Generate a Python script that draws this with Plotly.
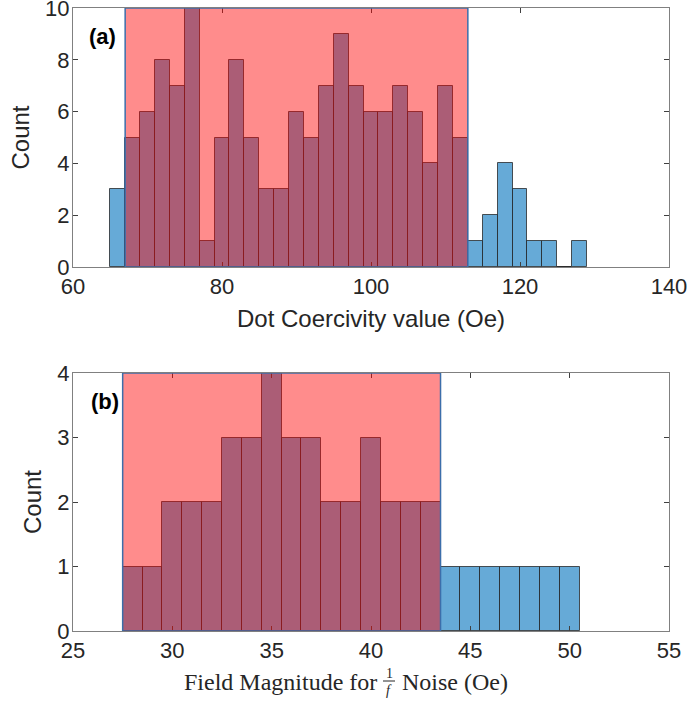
import plotly.graph_objects as go

# ---- data ----
# (a) Dot coercivity histogram
a_edges_start = 65
a_binwidth = 2
a_counts = [3, 5, 6, 8, 7, 10, 1, 5, 8, 5, 3, 3, 6, 5, 7, 9, 7, 6, 6, 7, 6, 4, 7, 5,
            1, 2, 4, 3, 1, 1, 0, 1]
a_region = [67, 113]
a_xticks = [60, 80, 100, 120, 140]
a_yticks = [0, 2, 4, 6, 8, 10]

# (b) Field magnitude histogram
b_edges_start = 27.5
b_binwidth = 1
b_counts = [1, 1, 2, 2, 2, 3, 3, 4, 3, 3, 2, 2, 3, 2, 2, 2,
            1, 1, 1, 1, 1, 1, 1]
b_region = [27.5, 43.5]
b_xticks = [25, 30, 35, 40, 45, 50, 55]
b_yticks = [0, 1, 2, 3, 4]

a_centers = [a_edges_start + a_binwidth * (i + 0.5) for i in range(len(a_counts))]
b_centers = [b_edges_start + b_binwidth * (i + 0.5) for i in range(len(b_counts))]

BAR_COLOR = "rgb(102,170,215)"
EDGE = "rgba(30,30,30,0.75)"
FONT = "Liberation Sans, Arial, sans-serif"
SERIF = "Liberation Serif, DejaVu Serif, serif"
TXT = "#262626"

W, H = 688, 705
ML, MR, MT, MB = 73, 19, 8, 74
PW, PH = W - ML - MR, H - MT - MB


def px(x):
    return (x - ML) / PW


def py(y):
    return (H - MB - y) / PH


fig = go.Figure()
fig.add_trace(go.Bar(x=a_centers, y=a_counts, width=a_binwidth,
                     marker=dict(color=BAR_COLOR, line=dict(color=EDGE, width=1)),
                     xaxis="x", yaxis="y", showlegend=False))
fig.add_trace(go.Bar(x=b_centers, y=b_counts, width=b_binwidth,
                     marker=dict(color=BAR_COLOR, line=dict(color=EDGE, width=1)),
                     xaxis="x2", yaxis="y2", showlegend=False))

# shaded regions
fig.add_shape(type="rect", xref="x", yref="y", x0=a_region[0], x1=a_region[1],
              y0=0, y1=max(a_yticks), fillcolor="rgba(255,0,0,0.45)",
              line=dict(color="rgb(60,110,170)", width=1.5), layer="above")
fig.add_shape(type="rect", xref="x2", yref="y2", x0=b_region[0], x1=b_region[1],
              y0=0, y1=max(b_yticks), fillcolor="rgba(255,0,0,0.45)",
              line=dict(color="rgb(60,110,170)", width=1.5), layer="above")
# fraction bar of 1/f in bottom x-axis title
fig.add_shape(type="line", xref="paper", yref="paper", x0=px(383), x1=px(395),
              y0=py(681), y1=py(681), line=dict(color=TXT, width=1))

axis_common = dict(showline=True, linecolor="#808080", linewidth=1, mirror="allticks",
                   ticks="inside", ticklen=5, tickcolor="#404040", showgrid=False,
                   zeroline=False, automargin=False, ticklabeloverflow="allow",
                   tickfont=dict(family=FONT, size=22, color=TXT))

yt = dict(ticklabelstandoff=-2)

fig.update_layout(
    width=W, height=H,
    margin=dict(l=ML, r=MR, t=MT, b=MB),
    plot_bgcolor="white", paper_bgcolor="white",
    bargap=0, barmode="overlay",
    xaxis=dict(domain=[0, 1], anchor="y", range=[60, 140], tickvals=a_xticks,
               **axis_common),
    yaxis=dict(domain=[py(267), 1], anchor="x", range=[0, 10], tickvals=a_yticks,
               title=dict(text="Count", standoff=8,
                          font=dict(family=FONT, size=24, color=TXT)), **axis_common, **yt),
    xaxis2=dict(domain=[0, 1], anchor="y2", range=[25, 55], tickvals=b_xticks,
                **axis_common),
    yaxis2=dict(domain=[0, py(373)], anchor="x2", range=[0, 4], tickvals=b_yticks,
                title=dict(text="Count", standoff=8,
                           font=dict(family=FONT, size=24, color=TXT)), **axis_common, **yt),
    annotations=[
        dict(text="<b>(a)</b>", xref="paper", yref="paper", x=px(102), y=py(37),
             xanchor="center", yanchor="middle",
             showarrow=False, font=dict(family=FONT, size=22, color="black")),
        dict(text="<b>(b)</b>", xref="paper", yref="paper", x=px(105), y=py(401),
             xanchor="center", yanchor="middle",
             showarrow=False, font=dict(family=FONT, size=22, color="black")),
        dict(text="Dot Coercivity value (Oe)", xref="paper", yref="paper",
             x=px(371), y=py(318), xanchor="center", yanchor="middle",
             showarrow=False, font=dict(family=FONT, size=24, color=TXT)),
        dict(text="Field Magnitude for", xref="paper", yref="paper",
             x=px(379), y=py(682), xanchor="right", yanchor="middle",
             showarrow=False, font=dict(family=SERIF, size=24, color=TXT)),
        dict(text="1", xref="paper", yref="paper",
             x=px(389), y=py(673), xanchor="center", yanchor="middle",
             showarrow=False, font=dict(family=SERIF, size=14, color=TXT)),
        dict(text="<i>f</i>", xref="paper", yref="paper",
             x=px(389), y=py(690), xanchor="center", yanchor="middle",
             showarrow=False, font=dict(family=SERIF, size=14, color=TXT)),
        dict(text="Noise (Oe)", xref="paper", yref="paper",
             x=px(400), y=py(682), xanchor="left", yanchor="middle",
             showarrow=False, font=dict(family=SERIF, size=24, color=TXT)),
    ],
)

fig.write_html("out.html")
